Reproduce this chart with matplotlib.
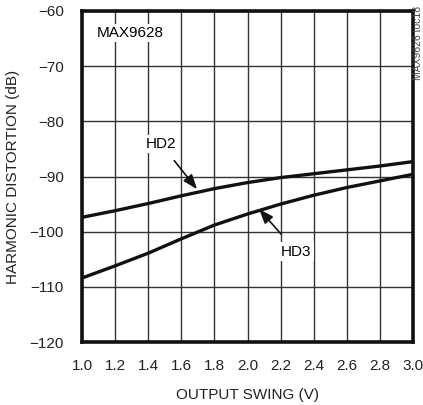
import matplotlib
matplotlib.use("Agg")
import matplotlib.pyplot as plt
from matplotlib import font_manager

names = set(f.name for f in font_manager.fontManager.ttflist)
fam = "Liberation Sans Narrow" if "Liberation Sans Narrow" in names else "Liberation Sans"
plt.rcParams['font.family'] = [fam, 'DejaVu Sans']

swing = [1.0, 1.2, 1.4, 1.6, 1.8, 2.0, 2.2, 2.4, 2.6, 2.8, 3.0]
hd2 = [-97.4, -96.2, -94.9, -93.5, -92.2, -91.1, -90.2, -89.5, -88.8, -88.1, -87.3]
hd3 = [-108.4, -106.2, -103.9, -101.3, -98.8, -96.8, -95.0, -93.4, -92.0, -90.8, -89.6]
xticks = [1.0, 1.2, 1.4, 1.6, 1.8, 2.0, 2.2, 2.4, 2.6, 2.8, 3.0]
yticks = [-120, -110, -100, -90, -80, -70, -60]

fig = plt.figure(figsize=(4.23, 4.05), dpi=100)
ax = fig.add_axes([82/423, 1 - 342/405, 331/423, 331/405])

ax.plot(swing, hd2, color="#111111", lw=2.4, solid_capstyle="butt", zorder=3)
ax.plot(swing, hd3, color="#111111", lw=2.4, solid_capstyle="butt", zorder=3)

ax.set_xlim(1.0, 3.0)
ax.set_ylim(-120, -60)
ax.set_xticks(xticks)
ax.set_xticklabels(["%.1f" % v for v in xticks])
ax.set_yticks(yticks)
ax.grid(True, color="#333333", lw=1.0)
ax.tick_params(length=0, labelsize=11, colors="#222222")
ax.tick_params(axis="y", pad=13)
ax.tick_params(axis="x", pad=12)
for s in ax.spines.values():
    s.set_linewidth(2.6)
    s.set_color("#111111")
ax.set_axisbelow(True)

ax.set_xlabel("OUTPUT SWING (V)", fontsize=11, color="#222222", labelpad=11)
ax.set_ylabel("HARMONIC DISTORTION (dB)", fontsize=11, color="#222222", labelpad=7)

box = dict(facecolor="white", edgecolor="none", pad=1.5)
ax.text(1.29, -64.0, "MAX9628", fontsize=11, ha="center", va="center", bbox=box, zorder=4)
ax.annotate("HD2", xy=(1.695, -92.3), xytext=(1.477, -84.1), fontsize=11,
            ha="center", va="center", bbox=box, zorder=4,
            arrowprops=dict(arrowstyle="-|>,head_length=0.8,head_width=0.3", color="#111111",
                            lw=1.2, shrinkA=7, shrinkB=0))
ax.annotate("HD3", xy=(2.07, -95.9), xytext=(2.295, -103.6), fontsize=11,
            ha="center", va="center", bbox=box, zorder=4,
            arrowprops=dict(arrowstyle="-|>,head_length=0.8,head_width=0.3", color="#111111",
                            lw=1.2, shrinkA=8, shrinkB=0))

fig.text(418/423, 1 - 43/405, "MAX9626 toc18", fontsize=7.5, rotation=90,
         ha="center", va="center", color="#444444")

fig.savefig("out.png", dpi=100)
